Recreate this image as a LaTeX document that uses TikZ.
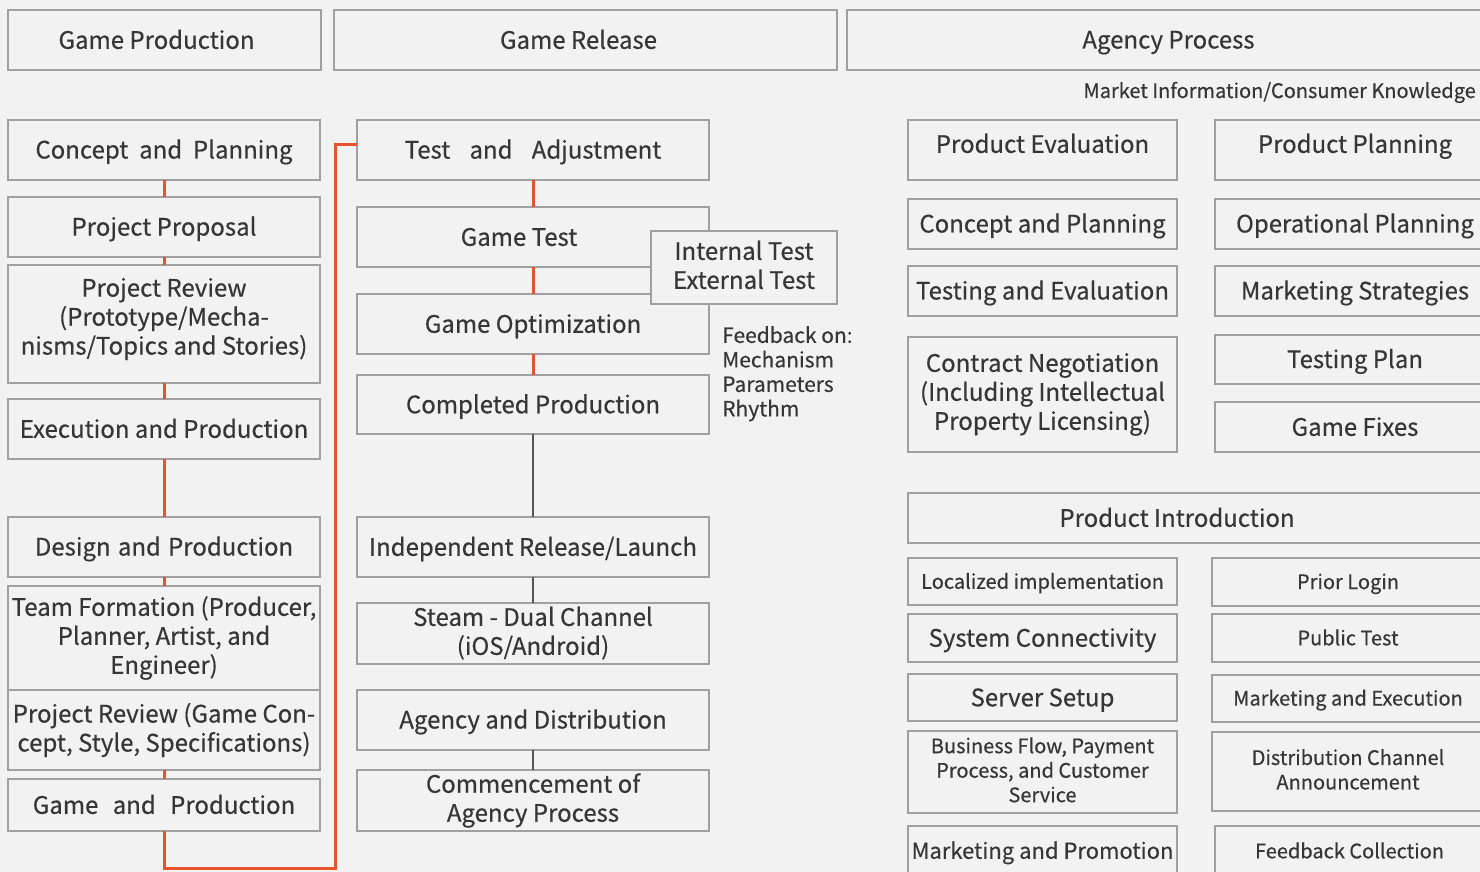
\documentclass[tikz,border=0pt]{standalone}
\usepackage{fontspec}
\setmainfont{Noto Sans CJK SC}[FakeBold=0.4]
\definecolor{bg}{HTML}{F2F2F2}
\definecolor{edge}{HTML}{A0A0A0}
\definecolor{ink}{HTML}{363636}
\definecolor{flow}{HTML}{E8532F}
\definecolor{link}{HTML}{555555}
% strut that centres the cap height of a line in its box
\newcommand\capstrut{\rule[-0.225em]{0pt}{1.183em}}
\tikzset{
  box/.style={draw=edge, line width=2pt, fill=bg, inner sep=2pt, outer sep=0pt,
    align=center, text=ink, font=\fontsize{24}{29}\selectfont,
    execute at begin node=\capstrut, execute at end node=\capstrut},
  smalltext/.style={font=\fontsize{20}{24.5}\selectfont},
  midtext/.style={font=\fontsize{22}{27}\selectfont},
  note/.style={text=ink, inner sep=0pt, align=left},
  redlink/.style={draw=flow, line width=3pt},
  graylink/.style={draw=link, line width=2.5pt},
}
% \bx[options]{name}{left}{top}{right}{bottom}{text}
\newcommand\bx[7][]{%
  \node[box, minimum width={(#5)-(#3)}, minimum height={(#6)-(#4)}, #1]
    (#2) at ({((#3)+(#5))/2},{((#4)+(#6))/2}) {#7};}
\begin{document}
\begin{tikzpicture}[x=1pt,y=-1pt]
\fill[bg] (0,0) rectangle (1480,872);
\useasboundingbox (0,0) rectangle (1480,872);
\clip (0,0) rectangle (1480,872);

% column headers
\bx{hprod}{8}{10}{321}{70}{Game Production\hspace{16pt}}
\bx{hrel}{334}{10}{837}{70}{Game Release\hspace{14pt}}
\bx{hagency}{847}{10}{1490}{70}{Agency Process}
\node[note, anchor=base east, font=\fontsize{20}{24}\selectfont] (market) at (1476,98)
  {Market Information/Consumer Knowledge};

% game production column
\bx{l1}{8}{120}{320}{180}{Concept\hspace{0.45em}and\hspace{0.45em}Planning}
\bx{l2}{8}{197}{320}{257}{Project Proposal}
\bx{l3}{8}{265}{320}{383}{Project Review\\(Prototype/Mecha-\\nisms/Topics and Stories)\\[-19pt]}
\bx{l4}{8}{399}{320}{459}{Execution and Production}
\bx{l5}{8}{517}{320}{577}{Design\hspace{0.3em}and\hspace{0.3em}Production}
\bx{l6}{8}{586}{320}{690}{Team Formation (Producer,\\Planner, Artist, and\\Engineer)}
\bx{l7}{8}{690}{320}{770}{Project Review (Game Con-\\cept, Style, Specifications)}
\bx{l8}{8}{779}{320}{831}{Game\hspace{0.6em}and\hspace{0.6em}Production}

% game release column
\bx{m1}{357}{120}{709}{180}{Test\hspace{0.8em}and\hspace{0.8em}Adjustment}
\bx{m2}{357}{207}{709}{267}{Game Test\hspace{28pt}}
\bx{m3}{357}{294}{709}{354}{Game Optimization}
\bx{m4}{357}{375}{709}{434}{Completed Production}
\bx{m5}{357}{517}{709}{577}{Independent Release/Launch}
\bx{m6}{357}{603}{709}{664}{Steam - Dual Channel\\(iOS/Android)}
\bx{m7}{357}{690}{709}{750}{Agency and Distribution}
\bx{m8}{357}{770}{709}{831}{Commencement of\\Agency Process}
\bx{tests}{651}{231}{837}{304}{Internal Test\\External Test}
\node[note, anchor=north west, font=\fontsize{21}{24.5}\selectfont] (feedback) at (722,326)
  {Feedback on:\\Mechanism\\Parameters\\Rhythm};

% agency process: evaluation and planning
\bx{r1}{908}{120}{1177}{180}{Product Evaluation\\[-21pt]}
\bx{r2}{908}{199}{1177}{249}{Concept and Planning}
\bx{r3}{908}{266}{1177}{316}{Testing and Evaluation}
\bx{r4}{908}{337}{1177}{452}{Contract Negotiation\\(Including Intellectual\\Property Licensing)}
\bx{s1}{1215}{120}{1495}{180}{Product Planning\\[-21pt]}
\bx{s2}{1215}{199}{1495}{249}{Operational Planning}
\bx{s3}{1215}{266}{1495}{316}{Marketing Strategies}
\bx{s4}{1215}{335}{1495}{384}{Testing Plan}
\bx{s5}{1215}{402}{1495}{452}{Game Fixes}

% agency process: product introduction
\bx{intro}{908}{493}{1495}{543}{Product Introduction\hspace{49pt}}
\bx[smalltext]{b1}{908}{558}{1177}{605}{Localized implementation}
\bx{b2}{908}{614}{1177}{662}{System Connectivity}
\bx{b3}{908}{674}{1177}{721}{Server Setup}
\bx[smalltext]{b4}{908}{731}{1177}{813}{Business Flow, Payment\\Process, and Customer\\Service}
\bx[midtext]{b5}{908}{826}{1177}{876}{Marketing and Promotion}
\bx[smalltext]{c1}{1212}{558}{1484}{606}{Prior Login}
\bx[smalltext]{c2}{1212}{614}{1484}{662}{Public Test}
\bx[smalltext]{c3}{1212}{675}{1484}{722}{Marketing and Execution}
\bx[smalltext]{c4}{1212}{732}{1484}{811}{Distribution Channel\\Announcement}
\bx[smalltext]{c5}{1215}{826}{1484}{876}{Feedback Collection}

% production chain
\draw[redlink] (l1.south) -- (l2.north);
\draw[redlink] (l2.south) -- (l3.north);
\draw[redlink] (l3.south) -- (l4.north);
\draw[redlink] (l4.south) -- (l5.north);
\draw[redlink] (l5.south) -- (l6.north);
\draw[redlink] (l7.south) -- (l8.north);
% hand-over from production to testing
\coordinate (loopb) at (335,868);
\coordinate (loopt) at (335,145);
\draw[redlink] (l8.south) |- (loopb) -- (loopt) -- (loopt -| m1.west);
% testing chain
\draw[redlink] (m1.south) -- (m2.north);
\draw[redlink] (m2.south) -- (m3.north);
\draw[redlink] (m3.south) -- (m4.north);
% release chain
\draw[graylink] (m4.south) -- (m5.north);
\draw[graylink] (m5.south) -- (m6.north);
\draw[graylink] (m7.south) -- (m8.north);
\end{tikzpicture}
\end{document}
